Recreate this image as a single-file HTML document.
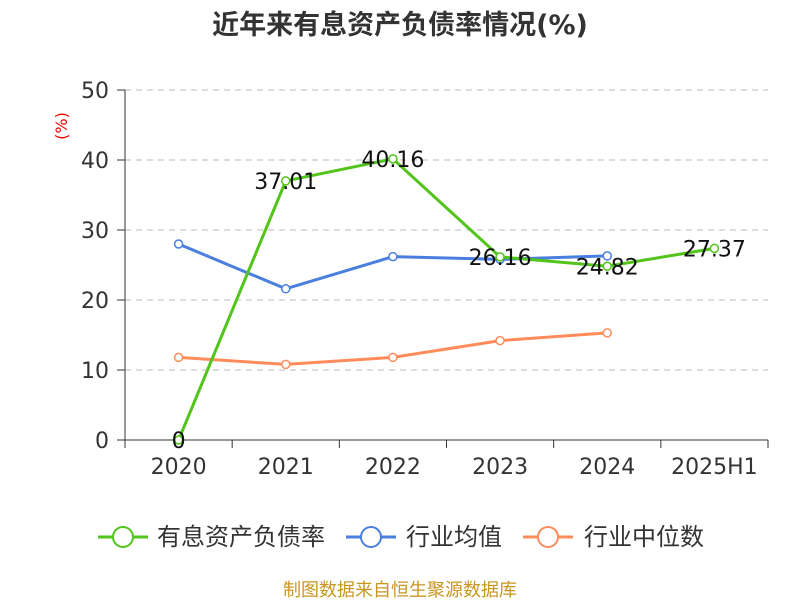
<!DOCTYPE html>
<html><head><meta charset="utf-8"><style>
body{margin:0;background:#fff;}
svg text{font-family:"DejaVu Sans","Noto Sans CJK SC",sans-serif;}
</style></head><body>
<svg id="chart" width="800" height="600" xmlns="http://www.w3.org/2000/svg">
<text x="400" y="34" text-anchor="middle" font-size="27" font-weight="bold" fill="#333">近年来有息资产负债率情况(%)</text>
<text x="62" y="126" font-size="16" fill="#e00" transform="rotate(-90 62 126)" text-anchor="middle" dy="5">(%)</text>
<g id="grid"></g><g id="axes"></g><g id="series"></g>
<g font-size="24" fill="#333">
<g><line x1="98" y1="537" x2="148" y2="537" stroke="#52c41a" stroke-width="3"/><circle cx="123" cy="537" r="10" fill="#fff" stroke="#52c41a" stroke-width="2"/><text x="157" y="545">有息资产负债率</text></g>
<g><line x1="346" y1="537" x2="396" y2="537" stroke="#4a7fe0" stroke-width="3"/><circle cx="371" cy="537" r="10" fill="#fff" stroke="#4a7fe0" stroke-width="2"/><text x="406" y="545">行业均值</text></g>
<g><line x1="523" y1="537" x2="573" y2="537" stroke="#ff8c5a" stroke-width="3"/><circle cx="548" cy="537" r="10" fill="#fff" stroke="#ff8c5a" stroke-width="2"/><text x="584" y="545">行业中位数</text></g>
</g>
<text x="400" y="596" text-anchor="middle" font-size="18" fill="#c8961e">制图数据来自恒生聚源数据库</text>
</svg>
<script>
const categories=["2020","2021","2022","2023","2024","2025H1"];
const debtRatio=[0,37.01,40.16,26.16,24.82,27.37];
const debtLabels=["0","37.01","40.16","26.16","24.82","27.37"];
const industryAvg=[28.0,21.6,26.2,25.8,26.3];
const industryMedian=[11.8,10.8,11.8,14.2,15.3];
const yTicks=[0,10,20,30,40,50];
const NS="http://www.w3.org/2000/svg";
const x0=125,x1=768,yB=440,yT=90;
const band=(x1-x0)/categories.length;
const xs=i=>x0+band*(i+0.5);
const ys=v=>yB-(v/50)*(yB-yT);
function mk(tag,attrs,parent){const e=document.createElementNS(NS,tag);for(const k in attrs)e.setAttribute(k,attrs[k]);parent.appendChild(e);return e;}
const grid=document.getElementById('grid'),axes=document.getElementById('axes'),ser=document.getElementById('series');
yTicks.forEach(t=>{
 if(t>0){const l=mk('line',{x1:x0,x2:x1,y1:ys(t),y2:ys(t),stroke:'#bbb','stroke-dasharray':'6,5'},grid);
 
 }
 const tk=mk('line',{x1:x0-8,x2:x0,y1:ys(t),y2:ys(t),stroke:'#333'},axes);
 
 
 const tx=mk('text',{x:x0-16,y:ys(t)+8,'text-anchor':'end','font-size':22,fill:'#333'},axes);tx.textContent=t;
 
 
});
const ya=mk('line',{x1:x0,x2:x0,y1:yT,y2:yB,stroke:'#333'},axes);


const xa=mk('line',{x1:x0,x2:x1,y1:yB,y2:yB,stroke:'#333'},axes);


for(let i=0;i<=categories.length;i++){const t=mk('line',{x1:x0+band*i,x2:x0+band*i,y1:yB,y2:yB+8,stroke:'#333'},axes);
 
 }
categories.forEach((c,i)=>{const t=mk('text',{x:xs(i),y:474,'text-anchor':'middle','font-size':22,fill:'#333'},axes);t.textContent=c;
 
 });
function series(vals,color,name){
 const p=mk('polyline',{points:vals.map((v,i)=>xs(i)+','+ys(v)).join(' '),fill:'none',stroke:color,'stroke-width':3},ser);
 
 
 vals.forEach((v,i)=>{const c=mk('circle',{cx:xs(i),cy:ys(v),r:4,fill:'#fff',stroke:color,'stroke-width':1.5},ser);
 
 });
}
series(industryMedian,'#ff8c5a','industry-median');
series(industryAvg,'#4a7fe0','industry-avg');
series(debtRatio,'#52c41a','debt-ratio');
debtRatio.forEach((v,i)=>{const t=mk('text',{x:xs(i),y:ys(v)+8,'text-anchor':'middle','font-size':22,fill:'#111'},ser);t.textContent=debtLabels[i];
 
 });
</script>
</body></html>
